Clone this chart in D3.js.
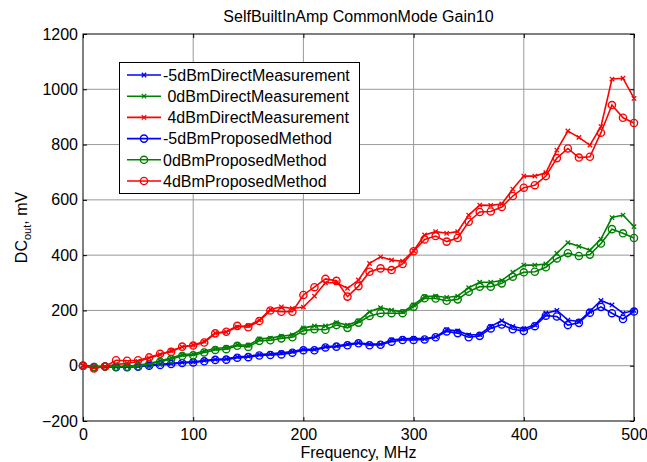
<!DOCTYPE html>
<html lang="en">
<head>
	<meta charset="utf-8">
	<title>SelfBuiltInAmp CommonMode Gain10</title>
	<script src="https://d3js.org/d3.v7.min.js"></script>
	<style>
		body { margin: 0; background: #fff; }
		text { font-family: "Liberation Sans", Arial, sans-serif; fill: #000; }
	</style>
</head>
<body>

<script type="text/javascript">

// frequencies, MHz (one point every 10)
var freq = d3.range(0, 501, 10);

// DC out, mV
var direct_m5 = [0, -3, -3, -4, -3, -2, 1, 5, 8, 12, 14, 19, 23, 25, 32, 34, 40, 43, 47, 51,
  59, 59, 69, 71, 78, 83, 78, 78, 93, 97, 99, 97, 105, 130, 126, 111, 113, 142, 163, 142,
  134, 148, 190, 200, 165, 160, 197, 236, 220, 190, 200];
var direct_0 = [0, -3, -5, -3, -2, 2, 8, 18, 28, 40, 42, 53, 62, 66, 76, 74, 97, 100, 107, 111,
  137, 144, 144, 156, 147, 162, 195, 210, 201, 195, 220, 250, 252, 247, 252, 282, 302, 302, 308, 338,
  364, 364, 368, 407, 445, 432, 418, 458, 536, 545, 503];
var direct_4 = [0, -5, -3, 5, 8, 15, 28, 40, 55, 68, 75, 88, 118, 122, 140, 145, 165, 203, 213, 207,
  212, 252, 300, 300, 280, 310, 370, 394, 382, 378, 416, 473, 485, 479, 485, 545, 581, 580, 585, 639,
  686, 686, 698, 780, 849, 826, 798, 865, 1037, 1040, 967];
var proposed_m5 = [0, -5, -3, -5, -5, -4, 0, 3, 6, 10, 12, 16, 21, 22, 29, 31, 37, 39, 41, 47,
  56, 56, 66, 69, 74, 81, 74, 76, 87, 93, 93, 95, 103, 124, 118, 103, 108, 135, 149, 132,
  126, 143, 181, 178, 147, 155, 192, 213, 190, 169, 196];
var proposed_0 = [0, -5, -3, -4, -4, -2, 5, 14, 24, 35, 38, 48, 57, 60, 72, 68, 90, 92, 99, 103,
  127, 132, 130, 147, 137, 156, 180, 190, 190, 190, 213, 244, 243, 235, 240, 268, 286, 286, 298, 322,
  338, 340, 356, 388, 407, 397, 402, 442, 494, 479, 462];
var proposed_4 = [0, -10, -3, 20, 18, 20, 30, 43, 50, 69, 73, 84, 117, 123, 144, 139, 162, 200, 195, 195,
  256, 284, 314, 307, 250, 288, 340, 352, 346, 368, 414, 457, 469, 449, 462, 521, 556, 558, 574, 614,
  644, 653, 686, 751, 786, 753, 756, 843, 943, 897, 878];

var seriesNames = ["-5dBmDirectMeasurement", " 0dBmDirectMeasurement", " 4dBmDirectMeasurement",
  "-5dBmProposedMethod", "0dBmProposedMethod", "4dBmProposedMethod"];
var xTicks = [0, 100, 200, 300, 400, 500];
var yTicks = [-200, 0, 200, 400, 600, 800, 1000, 1200];

var series = [
  { name: seriesNames[0], values: direct_m5, color: "#0000ff", marker: "x" },
  { name: seriesNames[1], values: direct_0, color: "#008000", marker: "x" },
  { name: seriesNames[2], values: direct_4, color: "#ff0000", marker: "x" },
  { name: seriesNames[3], values: proposed_m5, color: "#0000ff", marker: "o" },
  { name: seriesNames[4], values: proposed_0, color: "#008000", marker: "o" },
  { name: seriesNames[5], values: proposed_4, color: "#ff0000", marker: "o" }
];

var W = 647, H = 462;
// plot box (note: "top" is taken by window.top, so prefix everything)
var pLeft = 83, pRight = 634, pTop = 34, pBottom = 421;

var x = d3.scaleLinear().domain([0, 500]).range([pLeft, pRight]);
var y = d3.scaleLinear().domain([-200, 1200]).range([pBottom, pTop]);

var svg = d3.select("body").append("svg")
    .attr("width", W)
    .attr("height", H);

// grid
svg.append("g").selectAll("line")
    .data(xTicks.slice(1, -1))
    .enter().append("line")
    .attr("x1", function(d) { return x(d); })
    .attr("x2", function(d) { return x(d); })
    .attr("y1", pTop).attr("y2", pBottom)
    .attr("stroke", "#999").attr("stroke-width", 1);

svg.append("g").selectAll("line")
    .data(yTicks.slice(1, -1))
    .enter().append("line")
    .attr("y1", function(d) { return y(d); })
    .attr("y2", function(d) { return y(d); })
    .attr("x1", pLeft).attr("x2", pRight)
    .attr("stroke", "#999").attr("stroke-width", 1);

// axes (ticks pointing inwards, matlab style)
var xAxis = svg.append("g")
    .attr("transform", "translate(0," + pBottom + ")")
    .call(d3.axisBottom(x).tickValues(xTicks).tickFormat(d3.format("d"))
      .tickSizeInner(-4).tickSizeOuter(0).tickPadding(8));
var yAxis = svg.append("g")
    .attr("transform", "translate(" + pLeft + ",0)")
    .call(d3.axisLeft(y).tickValues(yTicks).tickFormat(d3.format("d"))
      .tickSizeInner(-4).tickSizeOuter(0).tickPadding(5));
svg.append("g")
    .attr("transform", "translate(0," + pTop + ")")
    .call(d3.axisTop(x).tickValues(xTicks).tickSizeInner(-4).tickSizeOuter(0).tickFormat(""));
svg.append("g")
    .attr("transform", "translate(" + pRight + ",0)")
    .call(d3.axisRight(y).tickValues(yTicks).tickSizeInner(-4).tickSizeOuter(0).tickFormat(""));

svg.selectAll(".domain").remove();
svg.selectAll(".tick line").attr("stroke", "#000");
[xAxis, yAxis].forEach(function(a) {
  a.selectAll("text")
    .style("font-size", "16px")
    .style("font-family", "'Liberation Sans', Arial, sans-serif")
    .attr("fill", "#000");
});
xAxis.selectAll("text").attr("dy", "0.71em");

svg.append("rect")
    .attr("x", pLeft).attr("y", pTop)
    .attr("width", pRight - pLeft).attr("height", pBottom - pTop)
    .attr("fill", "none").attr("stroke", "#000").attr("stroke-width", 1);

// lines + markers
var line = d3.line()
    .x(function(d, i) { return x(freq[i]); })
    .y(function(d) { return y(d); });

function drawMarker(g, type, color, cx, cy) {
  if (type == "o") {
    g.append("circle")
      .attr("cx", cx).attr("cy", cy).attr("r", 3.6)
      .attr("fill", "none").attr("stroke", color).attr("stroke-width", 1.4);
  } else {
    var s = 2.2;
    g.append("path")
      .attr("d", "M" + (cx - s) + "," + (cy - s) + "L" + (cx + s) + "," + (cy + s) +
                 "M" + (cx - s) + "," + (cy + s) + "L" + (cx + s) + "," + (cy - s))
      .attr("stroke", color).attr("stroke-width", 1.3);
  }
}

series.forEach(function(s) {
  var g = svg.append("g");
  g.append("path")
    .datum(s.values)
    .attr("d", line)
    .attr("fill", "none")
    .attr("stroke", s.color)
    .attr("stroke-width", 1.6);
  s.values.forEach(function(v, i) {
    drawMarker(g, s.marker, s.color, x(freq[i]), y(v));
  });
});

// legend
var legend = svg.append("g");
legend.append("rect")
    .attr("x", 119.5).attr("y", 62.5)
    .attr("width", 240).attr("height", 131)
    .attr("fill", "#fff").attr("stroke", "#000").attr("stroke-width", 1);

series.forEach(function(s, i) {
  var ly = 75 + i * 21.2;
  legend.append("line")
    .attr("x1", 127).attr("x2", 161)
    .attr("y1", ly).attr("y2", ly)
    .attr("stroke", s.color).attr("stroke-width", 1.6);
  drawMarker(legend, s.marker, s.color, 144, ly);
  legend.append("text")
    .attr("x", 163)
    .attr("y", ly)
    .attr("dy", "0.36em")
    .style("font-size", "16px")
    .style("white-space", "pre")
    .text(s.name);
});

// labels
svg.append("text")
    .attr("x", (pLeft + pRight) / 2)
    .attr("y", 22)
    .attr("text-anchor", "middle")
    .style("font-size", "16px")
    .text("SelfBuiltInAmp CommonMode Gain10");

svg.append("text")
    .attr("x", (pLeft + pRight) / 2)
    .attr("y", 458)
    .attr("text-anchor", "middle")
    .style("font-size", "16px")
    .text("Frequency, MHz");

var yl = svg.append("text")
    .attr("transform", "translate(27," + ((pTop + pBottom) / 2) + ") rotate(-90)")
    .attr("text-anchor", "middle")
    .style("font-size", "16px");
yl.append("tspan").text("DC");
yl.append("tspan").attr("dy", 4).style("font-size", "11px").text("out");
yl.append("tspan").attr("dy", -4).text(", mV");

</script>
</body>
</html>
